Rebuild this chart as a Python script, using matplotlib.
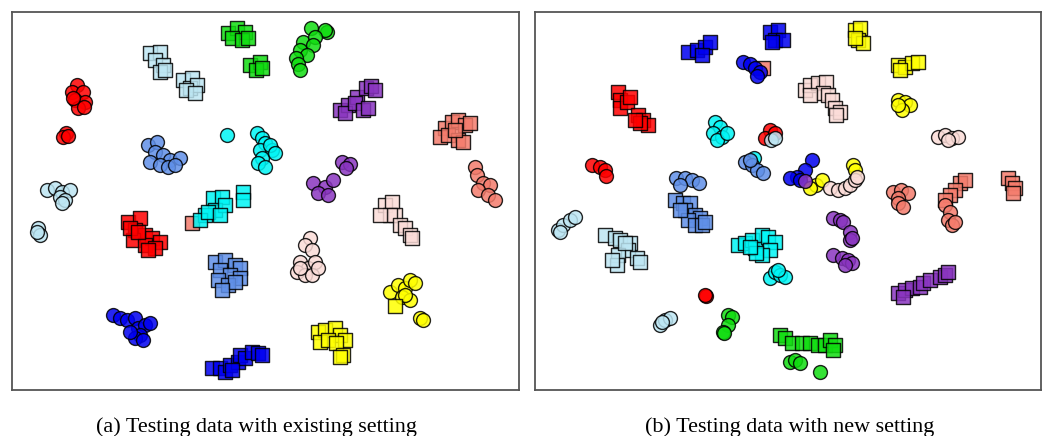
import matplotlib
matplotlib.use("Agg")
import matplotlib.pyplot as plt
import numpy as np

# ---------------- data (embedding coordinates) ----------------
# Panel (a): Testing data with existing setting
a_lightblue_sq = [(150, 53), (160, 52), (155, 60), (163, 65), (160, 72), (165, 70),
                  (183, 80), (192, 78), (190, 88), (197, 85), (186, 90), (195, 93)]
a_green_sq = [(228, 33), (237, 28), (245, 32), (232, 38), (242, 40), (248, 38),
              (250, 65), (260, 62), (256, 70), (262, 68)]
a_green_o = [(311, 28), (327, 32), (325, 30), (303, 42), (315, 37), (313, 45), (300, 50),
             (307, 55), (296, 58), (298, 64), (300, 70)]
a_red_o = [(77, 85), (72, 92), (83, 92), (75, 100), (85, 102), (78, 108), (84, 107), (73, 98),
           (66, 133), (63, 137), (68, 136)]
a_purple_sq = [(340, 110), (348, 105), (345, 113), (357, 97), (355, 103), (366, 88), (371, 86),
               (363, 110), (368, 108), (375, 90)]
a_salmon_sq = [(445, 128), (452, 122), (458, 120), (465, 125), (470, 123), (440, 137),
               (448, 135), (458, 140), (463, 142), (455, 130), (192, 223)]
a_cornflower_o = [(148, 145), (157, 142), (155, 152), (163, 155), (170, 160), (180, 158),
                  (150, 162), (160, 165), (168, 167), (175, 165)]
a_cyan_o = [(227, 135), (257, 133), (262, 138), (265, 143), (260, 150), (272, 150), (262, 158),
            (258, 163), (265, 167), (270, 145), (275, 153)]
a_purple_o = [(342, 162), (350, 164), (346, 168), (313, 183), (325, 187), (333, 180),
              (318, 193), (328, 195)]
a_salmon_o = [(475, 167), (477, 175), (483, 183), (490, 185), (478, 190), (488, 195), (495, 200)]
a_lightblue_o = [(47, 190), (55, 188), (62, 192), (70, 190), (60, 197), (65, 200), (62, 203),
                 (38, 228), (40, 235), (37, 232)]
a_red_sq = [(128, 222), (140, 218), (135, 230), (145, 235), (152, 238), (160, 242), (133, 240),
            (145, 245), (155, 248), (148, 250), (130, 228), (138, 232)]
a_cyan_sq = [(213, 198), (222, 197), (243, 192), (243, 200), (215, 210), (205, 215), (200, 220),
             (208, 212), (225, 205), (220, 215)]
a_cornflower_sq = [(215, 262), (225, 260), (235, 265), (240, 268), (220, 270), (230, 275),
                   (240, 278), (218, 280), (228, 285), (235, 282), (222, 290)]
a_misty_o = [(310, 238), (305, 245), (312, 250), (300, 262), (308, 268), (315, 262), (297, 272),
             (305, 275), (312, 275), (300, 268), (318, 268)]
a_misty_sq = [(385, 205), (392, 202), (395, 215), (390, 215), (400, 225), (405, 228), (410, 235),
              (412, 238), (380, 215)]
a_yellow_o = [(390, 292), (398, 285), (405, 288), (410, 280), (415, 283), (402, 297), (410, 300),
              (405, 295), (420, 318), (423, 320)]
a_yellow_sq = [(395, 306), (318, 332), (325, 330), (335, 328), (340, 335), (345, 340), (320, 342),
               (328, 340), (336, 343), (343, 355), (340, 357)]
a_blue_o = [(113, 315), (120, 318), (127, 320), (135, 318), (138, 328), (145, 325), (150, 323),
            (140, 335), (135, 338), (143, 340), (130, 332)]
a_blue_sq = [(212, 368), (220, 368), (225, 372), (230, 365), (238, 362), (240, 355), (245, 358),
             (252, 352), (258, 353), (262, 355), (232, 370)]

# Panel (b): Testing data with new setting
b_blue_sq = [(688, 52), (697, 50), (705, 47), (710, 42), (702, 55),
             (770, 32), (778, 30), (775, 40), (783, 40), (772, 42)]
b_yellow_sq = [(855, 30), (860, 28), (858, 40), (863, 43), (855, 38),
               (898, 65), (905, 67), (912, 63), (918, 62), (900, 70)]
b_salmon_sq = [(763, 68), (960, 183), (965, 180), (955, 190), (950, 195), (945, 200),
               (1008, 178), (1012, 183), (1015, 188), (1013, 193)]
b_blue_o = [(743, 62), (750, 64), (755, 68), (760, 72), (757, 76),
            (812, 160), (805, 170), (797, 177), (790, 178), (800, 180)]
b_misty_sq = [(805, 90), (810, 85), (818, 83), (826, 82), (823, 93), (828, 95), (832, 100),
              (835, 108), (840, 112), (836, 115), (810, 95)]
b_yellow_o = [(898, 100), (905, 102), (910, 105), (902, 110), (898, 105),
              (816, 185), (822, 180), (810, 188), (853, 165), (855, 170)]
b_red_sq = [(618, 92), (620, 100), (620, 108), (627, 102), (630, 97), (638, 115), (643, 120),
            (648, 125), (640, 123), (635, 120)]
b_cyan_o = [(715, 122), (720, 127), (713, 133), (722, 137), (717, 140), (727, 133),
            (754, 158), (770, 278), (775, 272), (780, 275), (785, 277), (778, 270)]
b_red_o = [(770, 130), (765, 138), (775, 133), (592, 165), (600, 167), (605, 170), (606, 176),
           (706, 296), (705, 295)]
b_lightblue_o = [(771, 140), (775, 138), (558, 230), (563, 225), (570, 220), (575, 217), (560, 232),
                 (660, 325), (665, 320), (670, 318), (662, 322)]
b_misty_o = [(938, 137), (945, 135), (952, 138), (958, 137), (948, 140),
             (830, 188), (838, 190), (845, 188), (850, 185), (855, 180), (857, 177)]
b_cornflower_o = [(745, 162), (752, 165), (757, 170), (763, 173), (750, 160),
                  (676, 178), (685, 178), (692, 180), (699, 183), (680, 185)]
b_purple_o = [(805, 181), (833, 218), (840, 220), (843, 222), (850, 232), (850, 240), (852, 238),
              (833, 255), (842, 258), (848, 260), (852, 263), (845, 265)]
b_salmon_o = [(893, 192), (901, 190), (908, 193), (898, 198), (898, 203), (903, 207),
              (945, 205), (950, 212), (948, 220), (952, 225), (955, 222)]
b_cornflower_sq = [(675, 200), (683, 203), (690, 203), (685, 210), (695, 215), (700, 218),
                   (688, 220), (695, 225), (702, 225), (705, 222), (680, 210)]
b_lightblue_sq = [(605, 235), (615, 238), (620, 240), (630, 243), (628, 250), (637, 258),
                  (640, 262), (618, 255), (617, 265), (612, 260), (625, 243)]
b_cyan_sq = [(738, 245), (745, 243), (752, 240), (755, 248), (762, 235), (768, 237), (775, 242),
             (770, 250), (762, 255), (756, 253), (750, 247)]
b_purple_sq = [(898, 293), (905, 290), (912, 288), (920, 287), (923, 283), (930, 280), (940, 277),
               (945, 275), (948, 272), (903, 297)]
b_green_o = [(728, 315), (732, 317), (728, 325), (723, 332), (724, 333),
             (790, 362), (795, 360), (800, 363), (820, 372)]
b_green_sq = [(780, 335), (785, 338), (792, 343), (802, 343), (810, 343), (818, 345), (825, 345),
              (830, 340), (835, 345), (833, 350)]

captions = ["(a) Testing data with existing setting", "(b) Testing data with new setting"]

# ---------------- styles ----------------
COL = {
    "red": "#ff0000", "lightblue": "#bde6f3", "green": "#11dd11", "purple": "#8a35c0",
    "salmon": "#f47c6c", "cornflower": "#6090e8", "cyan": "#00f5f5", "misty": "#fbdcd8",
    "yellow": "#ffff00", "blue": "#0000f0",
}

panel_a = [
    (a_lightblue_o, "lightblue", "o"), (a_red_o, "red", "o"), (a_green_o, "green", "o"),
    (a_cornflower_o, "cornflower", "o"), (a_cyan_o, "cyan", "o"), (a_purple_o, "purple", "o"),
    (a_salmon_o, "salmon", "o"), (a_misty_o, "misty", "o"), (a_yellow_o, "yellow", "o"),
    (a_blue_o, "blue", "o"),
    (a_lightblue_sq, "lightblue", "s"), (a_green_sq, "green", "s"), (a_purple_sq, "purple", "s"),
    (a_salmon_sq, "salmon", "s"), (a_red_sq, "red", "s"), (a_cyan_sq, "cyan", "s"),
    (a_cornflower_sq, "cornflower", "s"), (a_misty_sq, "misty", "s"), (a_yellow_sq, "yellow", "s"),
    (a_blue_sq, "blue", "s"),
]
panel_b = [
    (b_salmon_sq, "salmon", "s"), (b_blue_sq, "blue", "s"), (b_yellow_sq, "yellow", "s"),
    (b_misty_sq, "misty", "s"), (b_red_sq, "red", "s"), (b_cornflower_sq, "cornflower", "s"),
    (b_lightblue_sq, "lightblue", "s"), (b_cyan_sq, "cyan", "s"), (b_purple_sq, "purple", "s"),
    (b_green_sq, "green", "s"),
    (b_blue_o, "blue", "o"), (b_yellow_o, "yellow", "o"), (b_cyan_o, "cyan", "o"),
    (b_red_o, "red", "o"), (b_lightblue_o, "lightblue", "o"), (b_misty_o, "misty", "o"),
    (b_cornflower_o, "cornflower", "o"), (b_purple_o, "purple", "o"), (b_salmon_o, "salmon", "o"),
    (b_green_o, "green", "o"),
]

W, H = 1048, 436
fig = plt.figure(figsize=(W / 100, H / 100), dpi=100)

boxes = [(12, 519), (535, 1041)]
caption_x = [256, 790]
top, bottom = 12, 390
for (x0, x1), panel, cap, cx in zip(boxes, [panel_a, panel_b], captions, caption_x):
    ax = fig.add_axes([x0 / W, 1 - bottom / H, (x1 - x0) / W, (bottom - top) / H])
    for pts, cname, m in panel:
        arr = np.array(pts, dtype=float)
        ax.scatter(arr[:, 0], arr[:, 1], s=100 if m == "o" else 92, marker=m,
                   c=COL[cname], edgecolors="black", linewidths=1.0, alpha=0.85, zorder=3)
    ax.set_xlim(x0, x1)
    ax.set_ylim(bottom, top)
    ax.set_xticks([])
    ax.set_yticks([])
    for sp in ax.spines.values():
        sp.set_color("#555555")
        sp.set_linewidth(1.3)
    fig.text(cx / W, 1 - 432 / H, cap, ha="center", va="baseline",
             fontsize=15.9, family=["Liberation Serif", "DejaVu Serif"])

fig.savefig("out.png", dpi=100)
